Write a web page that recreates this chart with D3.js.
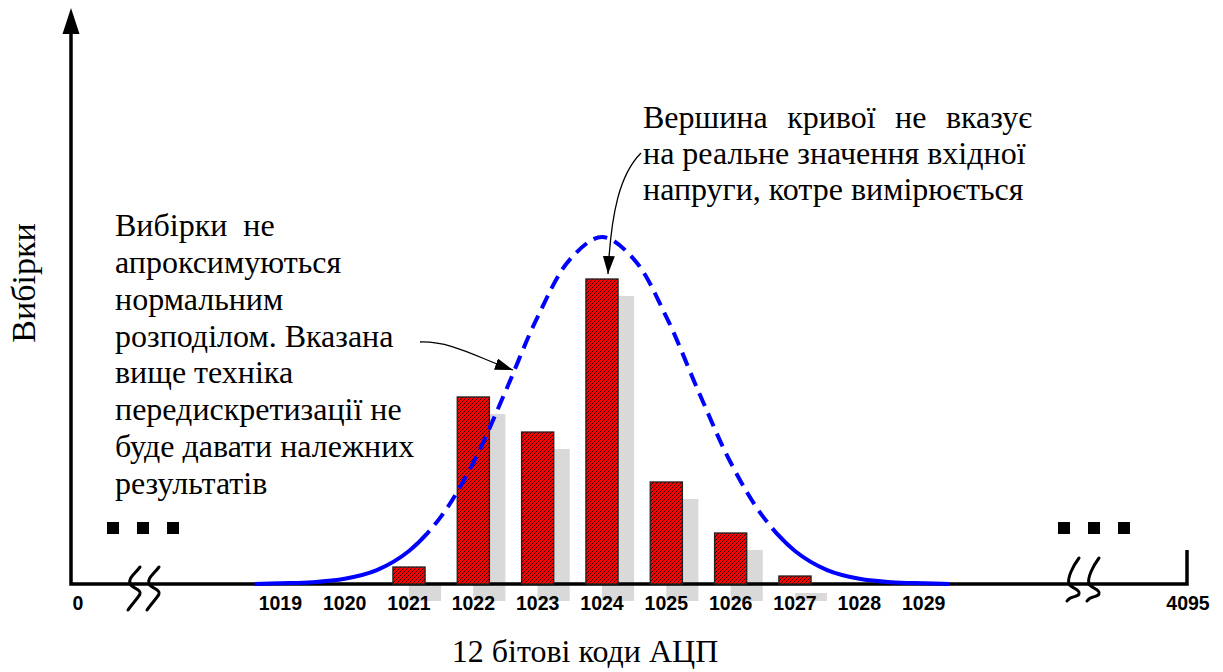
<!DOCTYPE html>
<html>
<head>
<meta charset="utf-8">
<script src="https://cdn.jsdelivr.net/npm/d3@7"></script>
</head>
<body style="margin:0">
<script>
// ---- data ----
const codes = [1021, 1022, 1023, 1024, 1025, 1026, 1027];
const counts = [4.9, 53.9, 43.8, 87.9, 29.4, 14.7, 2.3];

// fitted curve (code, height)
const curveCodes = [1018.6, 1019, 1019.5, 1020, 1020.5, 1021, 1021.5, 1022, 1022.5, 1023, 1023.5, 1024,
                    1024.5, 1025, 1025.5, 1026, 1026.5, 1027, 1027.5, 1028, 1028.5, 1029, 1029.4];
const curveVals = [0, 0.2, 0.5, 1.5, 4, 9.5, 19.5, 35, 55.5, 77, 93.5, 100,
                   93.5, 77, 55.5, 35, 19.5, 9.5, 4, 1.5, 0.5, 0.2, 0];

const tickCodes = [0, 1019, 1020, 1021, 1022, 1023, 1024, 1025, 1026, 1027, 1028, 1029, 4095];

const xTitle = "12 бітові коди АЦП";
const yTitle = "Вибірки";
const leftNote = ["Вибірки  не", "апроксимуються", "нормальним", "розподілом. Вказана",
                  "вище техніка", "передискретизації не", "буде давати належних", "результатів"];
const rightNote = ["Вершина кривої не вказує", "на реальне значення вхідної", "напруги, котре вимірюється"];

const w = 1223, h = 672;
const step = 64.33;          // px per code
const axisY = 584, axisX = 71, topY = 8;
const SERIF = "'Liberation Serif', 'Times New Roman', serif";

// broken x axis: 0 .. [break] .. 1019-1029 .. [break] .. 4095
const x = d3.scaleLinear()
  .domain([0, 1016.5, 1031.5, 4095])
  .range([78, 409 - 4.5 * step, 409 + 10.5 * step, 1188]);
const y = d3.scaleLinear().domain([0, 100]).range([axisY, 237]);
const half = step / 4;       // bars are half a code wide

let wrap = d3.select("body").append("div")
  .style("position", "relative")
  .style("width", w + "px").style("height", h + "px");

let svg = wrap.append("svg")
  .attr("width", w).attr("height", h)
  .style("display", "block");

let defs = svg.append("defs");
let pat = defs.append("pattern")
  .attr("id", "hatch").attr("patternUnits", "userSpaceOnUse")
  .attr("width", 4).attr("height", 4);
pat.append("rect").attr("width", 4).attr("height", 4).attr("fill", "#ff0000");
pat.append("path")
  .attr("d", "M-1,1 l2,-2 M0,4 l4,-4 M3,5 l2,-2")
  .attr("stroke", "#000").attr("stroke-width", 0.8);

defs.append("marker")
  .attr("id", "head").attr("markerUnits", "userSpaceOnUse")
  .attr("viewBox", "0 0 18 12").attr("refX", 18).attr("refY", 6)
  .attr("markerWidth", 18).attr("markerHeight", 12).attr("orient", "auto")
  .append("path").attr("d", "M0,0 L18,6 L0,12 Z").attr("fill", "#000");

// clip regions for solid / dashed parts of the curve
const dashFrom = x(1021.25), dashTo = x(1026.75);
defs.append("clipPath").attr("id", "clipDash")
  .append("rect").attr("x", dashFrom).attr("y", 0).attr("width", dashTo - dashFrom).attr("height", h);
let cs = defs.append("clipPath").attr("id", "clipSolid");
cs.append("rect").attr("x", 0).attr("y", 0).attr("width", dashFrom).attr("height", h);
cs.append("rect").attr("x", dashTo).attr("y", 0).attr("width", w - dashTo).attr("height", h);

// shadows
svg.append("g").selectAll("rect")
  .data(codes).enter().append("rect")
  .attr("x", d => x(d) - half + 16)
  .attr("y", (d, i) => y(counts[i]) + 17)
  .attr("width", half * 2)
  .attr("height", (d, i) => y(0) - y(counts[i]))
  .attr("fill", "#d9d9d9");

// tick labels
svg.append("g").selectAll("text")
  .data(tickCodes).enter().append("text")
  .attr("x", d => x(d))
  .attr("y", 610)
  .attr("text-anchor", "middle")
  .attr("font-family", "Liberation Sans").attr("font-weight", "bold").attr("font-size", 19.5)
  .text(d => d);

// axes
const xEnd = x(4095) - 1;
svg.append("path")
  .attr("d", `M${axisX},${topY + 24} V${axisY} H${xEnd} V${axisY - 34}`)
  .attr("fill", "none").attr("stroke", "#000").attr("stroke-width", 3.5);
svg.append("path")
  .attr("d", `M${axisX},${topY} L${axisX + 8.5},${topY + 26} L${axisX - 8.5},${topY + 26} Z`)
  .attr("fill", "#000");

// axis breaks
function breakMark(cx, top, bot) {
  const m = axisY;
  return `M${cx + 10},${top} C${cx + 4},${top + 8} ${cx - 2},${m - 6} ${cx},${m} ` +
         `C${cx + 2},${m + 4} ${cx + 12},${m + 6} ${cx + 10},${m + 10} C${cx + 8},${m + 14} ${cx + 2},${bot - 6} ${cx - 2},${bot}`;
}
const bl = x(0) + 52, br = x(4095) - 119;
const breaks = [[bl, 567, 610], [bl + 19, 567, 610], [br, 558, 601], [br + 20, 558, 601]];
svg.append("g").selectAll("path")
  .data(breaks).enter().append("path")
  .attr("d", d => breakMark(d[0], d[1], d[2]))
  .attr("fill", "none").attr("stroke", "#000").attr("stroke-width", 3).attr("stroke-linecap", "round");

// ellipsis dots
const dotsL = [107, 137, 167], dotsR = [1058, 1088, 1118];
svg.append("g").selectAll("rect")
  .data(dotsL.concat(dotsR)).enter().append("rect")
  .attr("x", d => d).attr("y", 522).attr("width", 12).attr("height", 12).attr("fill", "#000");

// bars
svg.append("g").selectAll("rect")
  .data(codes).enter().append("rect")
  .attr("x", d => x(d) - half)
  .attr("y", (d, i) => y(counts[i]))
  .attr("width", half * 2)
  .attr("height", (d, i) => y(0) - y(counts[i]))
  .attr("fill", "url(#hatch)")
  .attr("stroke", "#222").attr("stroke-width", 1.3);

// curve
const pts = curveCodes.map((c, i) => [x(c), y(curveVals[i])]);
const line = d3.line().curve(d3.curveCatmullRom);
svg.append("path").attr("d", line(pts)).attr("clip-path", "url(#clipSolid)")
  .attr("fill", "none").attr("stroke", "#0000ff").attr("stroke-width", 4);
svg.append("path").attr("d", line(pts)).attr("clip-path", "url(#clipDash)")
  .attr("fill", "none").attr("stroke", "#0000ff").attr("stroke-width", 4)
  .attr("stroke-dasharray", "14 8");

// annotation arrows
svg.append("path")
  .attr("d", "M420,342 C452,341 478,358 513,370")
  .attr("fill", "none").attr("stroke", "#000").attr("stroke-width", 1.3).attr("marker-end", "url(#head)");
svg.append("path")
  .attr("d", `M641,153 C620,174 611,212 ${x(1024) + 6},${y(counts[3]) - 5}`)
  .attr("fill", "none").attr("stroke", "#000").attr("stroke-width", 1.3).attr("marker-end", "url(#head)");

// serif texts as html on top of the svg
const LH = 40;
function topFor(baseline, size) {
  // Liberation Serif: ascent 0.891, descent 0.216
  return baseline - ((LH - 1.107 * size) / 2 + 0.891 * size);
}
function label(left, top, size) {
  return wrap.append("div")
    .style("position", "absolute")
    .style("left", left + "px").style("top", top + "px")
    .style("line-height", LH + "px")
    .style("font-family", SERIF, "important")
    .style("font-size", size + "px")
    .style("color", "#000")
    .style("white-space", "pre");
}

label(385, topFor(662, 32), 32)
  .style("width", "400px").style("text-align", "center")
  .text(xTitle);

// rotated y title, baseline at x = 35, centred on y = 283
const yb = (LH - 1.107 * 34) / 2 + 0.891 * 34 - LH / 2;
label(35 - yb - 100, 283 - LH / 2, 34)
  .style("width", "200px").style("text-align", "center")
  .style("transform", "rotate(-90deg)")
  .text(yTitle);

leftNote.forEach((t, i) => {
  label(115, topFor(236 + i * 36.8, 32), 32).text(t);
});

rightNote.forEach((t, i) => {
  let d = label(643, topFor(128 + i * 36, 32), 32).text(t);
  if (i == 0) {
    d.style("white-space", "normal").style("width", "389px")
      .style("text-align", "justify").style("text-align-last", "justify");
  }
});
</script>
</body>
</html>
